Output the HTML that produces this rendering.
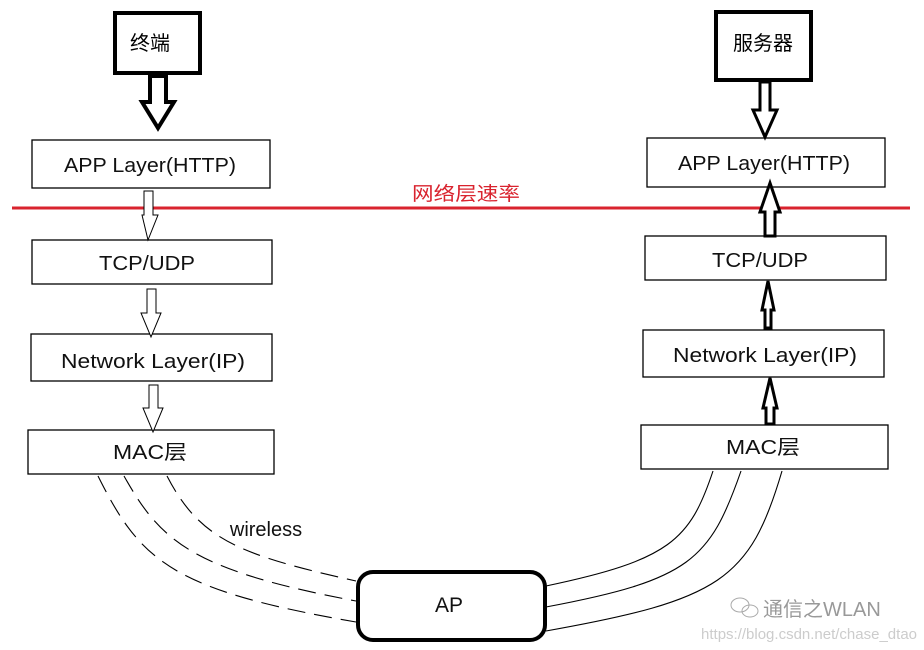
<!DOCTYPE html>
<html><head><meta charset="utf-8"><style>
html,body{margin:0;padding:0;background:#fff;}
svg{display:block;}
text{font-family:"Liberation Sans","Noto Sans CJK SC",sans-serif;}
</style></head><body>
<svg width="924" height="650" viewBox="0 0 924 650" xmlns="http://www.w3.org/2000/svg">
<rect width="924" height="650" fill="#fff"/>
<!-- top boxes -->
<rect x="115" y="13" width="85" height="60" fill="#fff" stroke="#000" stroke-width="4"/>
<text x="150" y="50" font-size="20" text-anchor="middle">终端</text>
<rect x="716" y="12" width="95" height="68" fill="#fff" stroke="#000" stroke-width="4"/>
<text x="763" y="50" font-size="20" text-anchor="middle">服务器</text>

<!-- left layer boxes -->
<g fill="#fff" stroke="#000" stroke-width="1.3">
<rect x="32" y="140" width="238" height="48"/>
<rect x="32" y="240" width="240" height="44"/>
<rect x="31" y="334" width="241" height="47"/>
<rect x="28" y="430" width="246" height="44"/>
<rect x="647" y="138" width="238" height="49"/>
<rect x="645" y="236" width="241" height="44"/>
<rect x="643" y="330" width="241" height="47"/>
<rect x="641" y="425" width="247" height="44"/>
</g>
<g font-size="20" text-anchor="middle" fill="#111">
<text x="150" y="172" textLength="172" lengthAdjust="spacingAndGlyphs">APP Layer(HTTP)</text>
<text x="147" y="270" textLength="96" lengthAdjust="spacingAndGlyphs">TCP/UDP</text>
<text x="153" y="368" textLength="184" lengthAdjust="spacingAndGlyphs">Network Layer(IP)</text>
<text x="150" y="459" textLength="74" lengthAdjust="spacingAndGlyphs">MAC层</text>
<text x="764" y="170" textLength="172" lengthAdjust="spacingAndGlyphs">APP Layer(HTTP)</text>
<text x="760" y="267" textLength="96" lengthAdjust="spacingAndGlyphs">TCP/UDP</text>
<text x="765" y="362" textLength="184" lengthAdjust="spacingAndGlyphs">Network Layer(IP)</text>
<text x="763" y="454" textLength="74" lengthAdjust="spacingAndGlyphs">MAC层</text>
</g>

<!-- red line -->
<line x1="12" y1="208" x2="910" y2="208" stroke="#d9232e" stroke-width="3"/>
<text x="466" y="200" font-size="19" fill="#d9232e" text-anchor="middle" textLength="108" lengthAdjust="spacingAndGlyphs">网络层速率</text>

<!-- left arrows -->
<g fill="#fff" stroke="#000" stroke-linejoin="miter">
<polygon stroke-width="4" points="150,76 166,76 166,102 174,102 158,128 142,102 150,102"/>
<polygon stroke-width="1" points="144,191 153,191 153,215 158,215 148,240 142,215 144,215"/>
<polygon stroke-width="1" points="147,289 156,289 156,313 161,313 151,337 141,313 147,313"/>
<polygon stroke-width="1" points="149,385 158,385 158,408 163,408 153,432 143,408 149,408"/>
<!-- right -->
<polygon stroke-width="3" points="760,82 770,82 770,110 777,110 765,137 753,110 760,110"/>
<polygon stroke-width="3" points="765,236 775,236 775,212 780,212 770,183 760,212 765,212"/>
<polygon stroke-width="3" points="765,328 771,328 771,310 774,310 768,281 762,310 765,310"/>
<polygon stroke-width="3" points="766,424 774,424 774,408 777,408 770,378 763,408 766,408"/>
</g>

<!-- dashed wireless lines -->
<g fill="none" stroke="#000" stroke-width="1.1" stroke-dasharray="18,9">
<path d="M98,476 C140,560 170,590 356,622"/>
<path d="M124,476 C160,540 190,570 356,601"/>
<path d="M167,476 C200,540 240,555 356,581"/>
</g>
<text x="266" y="536" font-size="20" text-anchor="middle" fill="#111">wireless</text>

<!-- solid lines -->
<g fill="none" stroke="#000" stroke-width="1.1">
<path d="M713,471 C690,540 670,560 546,586"/>
<path d="M741,471 C710,560 690,580 546,607"/>
<path d="M782,471 C750,580 720,600 546,631"/>
</g>

<!-- AP -->
<rect x="358" y="572" width="187" height="68" rx="15" fill="#fff" stroke="#000" stroke-width="4"/>
<text x="449" y="612" font-size="21" text-anchor="middle" fill="#111">AP</text>

<!-- watermark -->
<g fill="none" stroke="#aaa" stroke-width="1">
<ellipse cx="740" cy="605" rx="9" ry="7"/>
<ellipse cx="750" cy="611" rx="8" ry="6"/>
</g>
<text x="763" y="616" font-size="20" fill="#999">通信之WLAN</text>
<text x="917" y="639" font-size="15" fill="#ccc" text-anchor="end">https://blog.csdn.net/chase_dtao</text>
</svg>
</body></html>
